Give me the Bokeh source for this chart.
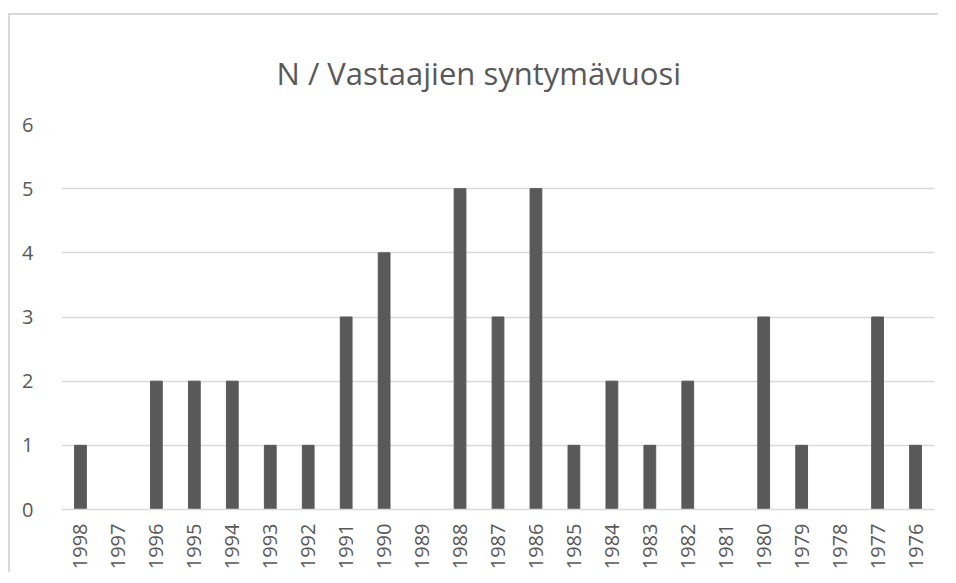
from bokeh.plotting import figure
from bokeh.models import Range1d, Title
from bokeh.embed import file_html
from bokeh.resources import INLINE
import math

years = ["1998", "1997", "1996", "1995", "1994", "1993", "1992", "1991", "1990", "1989",
         "1988", "1987", "1986", "1985", "1984", "1983", "1982", "1981", "1980", "1979",
         "1978", "1977", "1976"]
counts = [1, 0, 2, 2, 2, 1, 1, 3, 4, 0, 5, 3, 5, 1, 2, 1, 2, 0, 3, 1, 0, 3, 1]
title_text = "N / Vastaajien syntymävuosi"

FONT = "Open Sans"
TXT = "#595959"
GRID = "#d9d9d9"

p = figure(x_range=years, y_range=Range1d(0, 6), width=930, height=559,
           output_backend="svg", toolbar_location=None,
           min_border_left=51, min_border_right=6, min_border_top=109, min_border_bottom=65)
p.styles = {"border-top": "2px solid #d9d9d9", "border-left": "2px solid #d9d9d9",
            "margin-top": "13px", "margin-left": "8px"}

p.vbar(x=years, top=counts, width=0.31, color="#595959")

t = Title(text=title_text, align="left", text_font=FONT, text_font_size="31px",
          text_font_style="normal", text_color=TXT, offset=215, standoff=61)
p.add_layout(t, "above")

p.outline_line_color = None
p.background_fill_color = "white"
p.border_fill_color = "white"

p.xgrid.grid_line_color = None
p.ygrid.grid_line_color = GRID
p.ygrid.grid_line_width = 1.5

p.yaxis.axis_line_color = None
p.yaxis.major_tick_line_color = None
p.yaxis.minor_tick_line_color = None
p.yaxis.major_label_text_font = FONT
p.yaxis.major_label_text_font_size = "20px"
p.yaxis.major_label_text_color = TXT
p.yaxis.major_label_standoff = 22
p.yaxis.ticker = [0, 1, 2, 3, 4, 5, 6]

p.xaxis.axis_line_color = GRID
p.xaxis.axis_line_width = 1.5
p.xaxis.major_tick_line_color = None
p.xaxis.minor_tick_line_color = None
p.xaxis.major_label_orientation = math.pi / 2
p.xaxis.major_label_text_font = FONT
p.xaxis.major_label_text_font_size = "20px"
p.xaxis.major_label_text_color = TXT
p.xaxis.major_label_standoff = 8
p.x_range.range_padding = 0

open("out.html", "w").write(file_html(p, INLINE))
